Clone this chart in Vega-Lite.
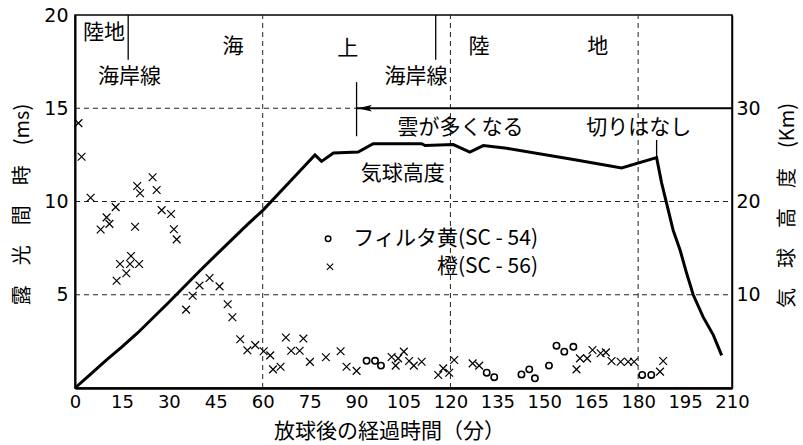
{
  "$schema": "https://vega.github.io/schema/vega-lite/v6.json",
  "width": 657,
  "height": 373,
  "autosize": "none",
  "padding": {"left": 75, "top": 15, "right": 71, "bottom": 57},
  "background": "white",
  "config": {
    "view": {"stroke": "black", "strokeWidth": 1.5},
    "font": "Noto Sans CJK JP",
    "axis": {"grid": false, "domainColor": "black", "tickColor": "black", "labelColor": "black", "titleColor": "black", "titleFontWeight": "normal", "labelOverlap": false, "zindex": 1}
  },
  "datasets": {
    "obs": [
      {"t": 1.1, "ms": 14.2, "f": "橙"}, {"t": 2.1, "ms": 12.4, "f": "橙"}, {"t": 5.0, "ms": 10.2, "f": "橙"},
      {"t": 8.2, "ms": 8.5, "f": "橙"}, {"t": 10.1, "ms": 9.15, "f": "橙"}, {"t": 11.0, "ms": 8.8, "f": "橙"},
      {"t": 13.0, "ms": 9.7, "f": "橙"}, {"t": 13.3, "ms": 5.75, "f": "橙"}, {"t": 14.4, "ms": 6.65, "f": "橙"},
      {"t": 16.4, "ms": 6.15, "f": "橙"}, {"t": 17.6, "ms": 6.65, "f": "橙"}, {"t": 17.9, "ms": 7.08, "f": "橙"},
      {"t": 19.2, "ms": 8.65, "f": "橙"}, {"t": 19.9, "ms": 10.83, "f": "橙"}, {"t": 20.5, "ms": 6.65, "f": "橙"},
      {"t": 20.8, "ms": 10.44, "f": "橙"}, {"t": 24.8, "ms": 11.3, "f": "橙"}, {"t": 26.1, "ms": 10.62, "f": "橙"},
      {"t": 27.7, "ms": 9.54, "f": "橙"}, {"t": 30.7, "ms": 9.33, "f": "橙"}, {"t": 31.6, "ms": 8.51, "f": "橙"},
      {"t": 32.5, "ms": 7.97, "f": "橙"}, {"t": 35.5, "ms": 4.2, "f": "橙"}, {"t": 37.6, "ms": 4.95, "f": "橙"},
      {"t": 39.8, "ms": 5.5, "f": "橙"}, {"t": 43.0, "ms": 5.9, "f": "橙"}, {"t": 46.2, "ms": 5.45, "f": "橙"},
      {"t": 48.8, "ms": 4.49, "f": "橙"}, {"t": 50.3, "ms": 3.79, "f": "橙"}, {"t": 52.8, "ms": 2.61, "f": "橙"},
      {"t": 55.1, "ms": 2.02, "f": "橙"}, {"t": 57.6, "ms": 2.3, "f": "橙"}, {"t": 60.3, "ms": 1.97, "f": "橙"},
      {"t": 62.4, "ms": 1.75, "f": "橙"}, {"t": 63.3, "ms": 1.0, "f": "橙"}, {"t": 65.7, "ms": 1.14, "f": "橙"},
      {"t": 67.4, "ms": 2.71, "f": "橙"}, {"t": 69.1, "ms": 2.0, "f": "橙"}, {"t": 71.8, "ms": 2.0, "f": "橙"},
      {"t": 73.0, "ms": 2.65, "f": "橙"}, {"t": 75.1, "ms": 1.4, "f": "橙"}, {"t": 80.2, "ms": 1.65, "f": "橙"},
      {"t": 84.9, "ms": 1.97, "f": "橙"}, {"t": 86.8, "ms": 1.14, "f": "橙"}, {"t": 90.0, "ms": 0.92, "f": "橙"},
      {"t": 101.2, "ms": 1.66, "f": "橙"}, {"t": 102.5, "ms": 1.2, "f": "橙"}, {"t": 103.3, "ms": 1.59, "f": "橙"},
      {"t": 105.1, "ms": 1.95, "f": "橙"}, {"t": 106.8, "ms": 1.45, "f": "橙"}, {"t": 108.3, "ms": 1.2, "f": "橙"},
      {"t": 110.8, "ms": 1.41, "f": "橙"}, {"t": 116.1, "ms": 0.7, "f": "橙"}, {"t": 117.7, "ms": 1.05, "f": "橙"},
      {"t": 119.6, "ms": 0.82, "f": "橙"}, {"t": 121.2, "ms": 1.5, "f": "橙"}, {"t": 127.1, "ms": 1.32, "f": "橙"},
      {"t": 129.2, "ms": 1.2, "f": "橙"}, {"t": 160.3, "ms": 1.0, "f": "橙"}, {"t": 161.4, "ms": 1.59, "f": "橙"},
      {"t": 163.7, "ms": 1.59, "f": "橙"}, {"t": 165.4, "ms": 2.04, "f": "橙"}, {"t": 168.0, "ms": 1.86, "f": "橙"},
      {"t": 169.7, "ms": 1.91, "f": "橙"}, {"t": 171.5, "ms": 1.45, "f": "橙"}, {"t": 174.4, "ms": 1.41, "f": "橙"},
      {"t": 176.8, "ms": 1.41, "f": "橙"}, {"t": 178.7, "ms": 1.41, "f": "橙"}, {"t": 187.0, "ms": 0.88, "f": "橙"},
      {"t": 188.0, "ms": 1.45, "f": "橙"},
      {"t": 93.2, "ms": 1.46, "f": "黄"}, {"t": 95.9, "ms": 1.46, "f": "黄"}, {"t": 97.8, "ms": 1.2, "f": "黄"},
      {"t": 131.6, "ms": 0.82, "f": "黄"}, {"t": 134.0, "ms": 0.58, "f": "黄"}, {"t": 142.7, "ms": 0.73, "f": "黄"},
      {"t": 145.2, "ms": 1.0, "f": "黄"}, {"t": 147.0, "ms": 0.52, "f": "黄"}, {"t": 151.5, "ms": 1.2, "f": "黄"},
      {"t": 153.9, "ms": 2.27, "f": "黄"}, {"t": 156.4, "ms": 1.95, "f": "黄"}, {"t": 159.3, "ms": 2.21, "f": "黄"},
      {"t": 181.3, "ms": 0.7, "f": "黄"}, {"t": 184.2, "ms": 0.7, "f": "黄"}
    ],
    "alt": [
      {"t": 0, "km": 0}, {"t": 5, "km": 1.5}, {"t": 10, "km": 3.0}, {"t": 15, "km": 4.4}, {"t": 20, "km": 5.9},
      {"t": 30, "km": 9.2}, {"t": 40, "km": 12.6}, {"t": 47, "km": 14.9}, {"t": 55, "km": 17.5}, {"t": 60.2, "km": 19.1},
      {"t": 70, "km": 22.6}, {"t": 76.7, "km": 25.0}, {"t": 78.8, "km": 24.3}, {"t": 82.6, "km": 25.2},
      {"t": 90.5, "km": 25.3}, {"t": 95.3, "km": 26.2}, {"t": 110.8, "km": 26.2}, {"t": 111.9, "km": 26.0},
      {"t": 120.9, "km": 26.1}, {"t": 126.2, "km": 25.3}, {"t": 130.5, "km": 26.0}, {"t": 138, "km": 25.7},
      {"t": 159.3, "km": 24.5}, {"t": 174.7, "km": 23.6}, {"t": 185.9, "km": 24.7}, {"t": 187.5, "km": 22.0},
      {"t": 189.1, "km": 19.8}, {"t": 191.2, "km": 16.9}, {"t": 193.4, "km": 14.8}, {"t": 195.5, "km": 12.3},
      {"t": 197.6, "km": 10.0}, {"t": 200.8, "km": 7.6}, {"t": 204, "km": 5.7}, {"t": 206.7, "km": 3.5}
    ],
    "hgrid": [
      {"t": 0, "t2": 210, "ms": 5}, {"t": 0, "t2": 210, "ms": 10}, {"t": 0, "t2": 90, "ms": 15}
    ],
    "vgrid": [
      {"t": 60, "ms": 0, "ms2": 20}, {"t": 120, "ms": 0, "ms2": 20}, {"t": 180, "ms": 0, "ms2": 20}
    ],
    "xticks": [
      {"t": 15}, {"t": 30}, {"t": 45}, {"t": 60}, {"t": 75}, {"t": 90}, {"t": 105}, {"t": 120},
      {"t": 135}, {"t": 150}, {"t": 165}, {"t": 180}, {"t": 195}
    ],
    "yticks": [
      {"ms": 1}, {"ms": 2}, {"ms": 3}, {"ms": 4}, {"ms": 5}, {"ms": 6}, {"ms": 7}, {"ms": 8}, {"ms": 9}, {"ms": 10},
      {"ms": 11}, {"ms": 12}, {"ms": 13}, {"ms": 14}, {"ms": 15}, {"ms": 16}, {"ms": 17}, {"ms": 18}, {"ms": 19}
    ],
    "vlines": [
      {"t": 17, "ms": 17.6, "ms2": 20}, {"t": 115.3, "ms": 17.6, "ms2": 20},
      {"t": 90, "ms": 13.5, "ms2": 16.4}, {"t": 185.9, "ms": 12.4, "ms2": 13.3}
    ],
    "arrow": [{"t": 90, "t2": 210, "ms": 15}],
    "head": [{"t": 92.6, "ms": 15}],
    "labels": [
      {"t": 9.3, "ms": 19.03, "label": "陸地"},
      {"t": 50.5, "ms": 18.28, "label": "海"},
      {"t": 87.2, "ms": 18.2, "label": "上"},
      {"t": 129.1, "ms": 18.28, "label": "陸"},
      {"t": 167.1, "ms": 18.28, "label": "地"},
      {"t": 17.4, "ms": 16.68, "label": "海岸線"},
      {"t": 109.0, "ms": 16.68, "label": "海岸線"},
      {"t": 123.2, "ms": 13.94, "label": "雲が多くなる"},
      {"t": 180.2, "ms": 13.94, "label": "切りはなし"},
      {"t": 104.8, "ms": 11.47, "label": "気球高度"}
    ],
    "legtext": [
      {"t": 148, "ms": 8.0, "label": "フィルタ黄(SC - 54)"},
      {"t": 148, "ms": 6.5, "label": "橙(SC - 56)"}
    ],
    "legsym": [
      {"t": 80.9, "ms": 8.0, "f": "黄"},
      {"t": 81.5, "ms": 6.5, "f": "橙"}
    ]
  },
  "encoding": {
    "x": {"field": "t", "type": "quantitative", "scale": {"domain": [0, 210], "nice": false},
      "axis": {"values": [0, 15, 30, 45, 60, 75, 90, 105, 120, 135, 150, 165, 180, 195, 210],
        "ticks": false, "domainWidth": 2.5, "labelFont": "DejaVu Sans", "labelFontSize": 18,
        "labelPadding": 5, "labelFlush": false, "labelOverlap": false, "zindex": 1,
        "title": "放球後の経過時間（分）", "titleFont": "Noto Sans CJK JP", "titleFontSize": 21,
        "titleX": 314, "titleY": 43, "titleAlign": "center", "titleBaseline": "middle", "titleAnchor": null}}
  },
  "layer": [
    {
      "encoding": {
        "y": {"field": "ms", "type": "quantitative", "scale": {"domain": [0, 20], "nice": false},
          "axis": {"values": [5, 10, 15, 20],
            "ticks": false, "domainWidth": 2, "labelFont": "DejaVu Sans", "labelFontSize": 19,
            "labelPadding": 7, "labelOverlap": false, "zindex": 1,
            "title": "露　光　間　時　(ms)", "titleFont": "Noto Sans CJK JP", "titleFontSize": 20,
            "titleAngle": -90, "titleX": -53, "titleY": 189, "titleAlign": "center", "titleBaseline": "middle", "titleAnchor": null}}
      },
      "layer": [
        {
          "data": {"name": "hgrid"},
          "mark": {"type": "rule", "color": "#222", "strokeWidth": 1, "strokeDash": [5, 4]},
          "encoding": {"x2": {"field": "t2"}}
        },
        {
          "data": {"name": "vgrid"},
          "mark": {"type": "rule", "color": "#222", "strokeWidth": 1, "strokeDash": [5, 4]},
          "encoding": {"y2": {"field": "ms2"}}
        },
        {
          "data": {"name": "xticks"},
          "mark": {"type": "rule", "color": "black", "strokeWidth": 1.5},
          "encoding": {"y": {"datum": 0, "type": "quantitative"}, "y2": {"datum": 0.45}}
        },
        {
          "data": {"name": "yticks"},
          "mark": {"type": "rule", "color": "black", "strokeWidth": 1.2},
          "encoding": {"x": {"datum": 0, "type": "quantitative"}, "x2": {"datum": 2.2}}
        },
        {
          "data": {"name": "vlines"},
          "mark": {"type": "rule", "color": "black", "strokeWidth": 1.3},
          "encoding": {"y2": {"field": "ms2"}}
        },
        {
          "data": {"name": "arrow"},
          "mark": {"type": "rule", "color": "black", "strokeWidth": 2},
          "encoding": {"x2": {"field": "t2"}}
        },
        {
          "data": {"name": "head"},
          "mark": {"type": "point", "shape": "M -1 0 L 1 -0.45 L 0.6 0 L 1 0.45 Z", "size": 200, "filled": true, "color": "black", "opacity": 1},
          "encoding": {}
        },
        {
          "data": {"name": "obs"},
          "transform": [{"filter": "datum.f == '橙'"}],
          "mark": {"type": "point", "shape": "M -1 -1 L 1 1 M -1 1 L 1 -1", "size": 60, "filled": false, "color": "black", "strokeWidth": 1.2, "opacity": 1},
          "encoding": {}
        },
        {
          "data": {"name": "obs"},
          "transform": [{"filter": "datum.f == '黄'"}],
          "mark": {"type": "point", "shape": "circle", "size": 40, "filled": false, "color": "black", "strokeWidth": 1.6, "opacity": 1},
          "encoding": {}
        },
        {
          "data": {"name": "legsym"},
          "transform": [{"filter": "datum.f == '橙'"}],
          "mark": {"type": "point", "shape": "M -1 -1 L 1 1 M -1 1 L 1 -1", "size": 40, "filled": false, "color": "black", "strokeWidth": 1.1, "opacity": 1},
          "encoding": {}
        },
        {
          "data": {"name": "legsym"},
          "transform": [{"filter": "datum.f == '黄'"}],
          "mark": {"type": "point", "shape": "circle", "size": 30, "filled": false, "color": "black", "strokeWidth": 1.5, "opacity": 1},
          "encoding": {}
        },
        {
          "data": {"name": "labels"},
          "mark": {"type": "text", "font": "Noto Sans CJK JP", "fontSize": 21, "align": "center", "baseline": "middle", "color": "black"},
          "encoding": {"text": {"field": "label"}}
        },
        {
          "data": {"name": "legtext"},
          "mark": {"type": "text", "font": "Noto Sans CJK JP", "fontSize": 21, "align": "right", "baseline": "middle", "color": "black"},
          "encoding": {"text": {"field": "label"}}
        }
      ]
    },
    {
      "data": {"name": "alt"},
      "mark": {"type": "line", "color": "black", "strokeWidth": 3},
      "encoding": {
        "y": {"field": "km", "type": "quantitative", "scale": {"domain": [0, 40], "nice": false},
          "axis": {"orient": "right", "values": [10, 20, 30], "ticks": false, "domainWidth": 1.5,
            "labelFont": "DejaVu Sans", "labelFontSize": 19, "labelPadding": 4, "labelOverlap": false, "zindex": 1,
            "title": "気　球　高　度　(Km)", "titleFont": "Noto Sans CJK JP", "titleFontSize": 20,
            "titleAngle": -90, "titleX": 55, "titleY": 190, "titleAlign": "center", "titleBaseline": "middle", "titleAnchor": null}}
      }
    }
  ],
  "resolve": {"scale": {"y": "independent"}, "axis": {"y": "independent"}}
}
